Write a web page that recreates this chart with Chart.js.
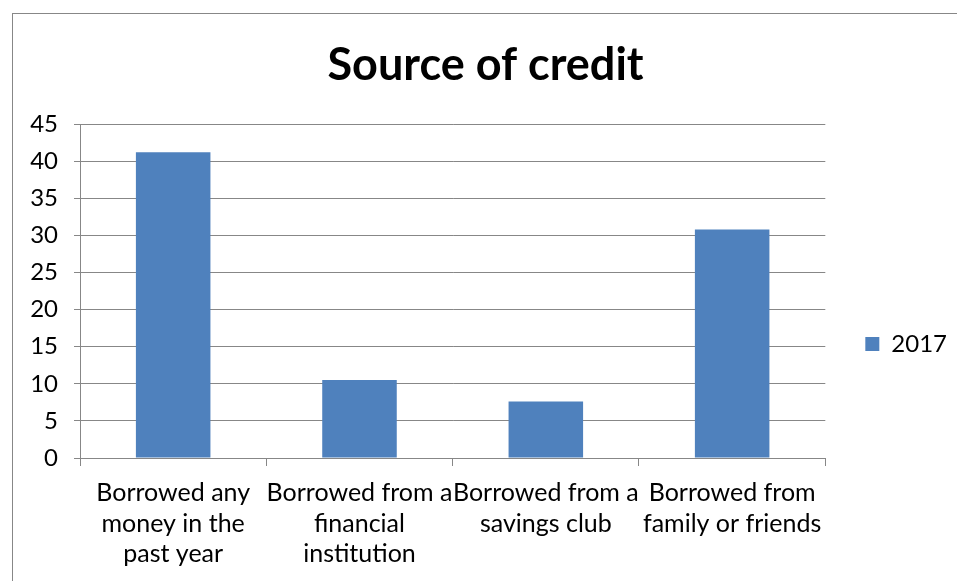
<!DOCTYPE html>
<html>
<head>
<meta charset="utf-8">
<script src="https://cdn.jsdelivr.net/npm/chart.js@4"></script>
<style>
  body { margin: 0; background: #fff; }
  #wrap { position: relative; width: 957px; height: 581px; overflow: hidden; }
  #frame { position: absolute; left: 12px; top: 13px; width: 1000px; height: 700px;
           border-left: 1px solid #878787; border-top: 1px solid #878787; pointer-events: none; }
  canvas { position: absolute; left: 0; top: 0; }
</style>
</head>
<body>
<div id="wrap">
  <canvas id="chart" width="957" height="581"></canvas>
  <div id="frame"></div>
</div>
<script>
const categories = [
  ['Borrowed any', 'money in the', 'past year'],
  ['Borrowed from a', 'financial', 'institution'],
  ['Borrowed from a', 'savings club'],
  ['Borrowed from', 'family or friends']
]
const series2017 = [41.2, 10.5, 7.6, 30.8]
const seriesName = '2017'
const titleText = 'Source of credit'

const fontFamily = 'Lato, "Open Sans", sans-serif'
const gridColor = '#878787'
const barColor = '#4f81bd'

let ctx = document.getElementById('chart').getContext('2d')
let chart = new Chart(ctx, {
  type: 'bar',
  data: {
    labels: categories,
    datasets: [{
      label: seriesName,
      data: series2017,
      backgroundColor: barColor,
      borderWidth: 0,
      categoryPercentage: 0.8,
      barPercentage: 0.5
    }]
  },
  options: {
    responsive: false,
    animation: false,
    layout: {
      padding: { left: 14, right: 0, top: 0, bottom: 0 }
    },
    plugins: {
      title: {
        display: true,
        text: titleText,
        color: '#000',
        font: { family: fontFamily, size: 45, weight: 'bold' },
        padding: { top: 38, bottom: 32 }
      },
      legend: {
        position: 'right',
        title: { display: true, text: ' ', padding: 50, font: { size: 6 } },
        labels: {
          color: '#000',
          boxWidth: 14,
          boxHeight: 14,
          padding: 40,
          font: { family: fontFamily, size: 24 }
        }
      },
      tooltip: { enabled: false }
    },
    scales: {
      x: {
        offset: true,
        grid: { display: true, offset: true, drawOnChartArea: false, color: gridColor, tickLength: 8 },
        border: { color: gridColor },
        ticks: {
          color: '#000',
          maxRotation: 0,
          autoSkip: false,
          padding: 12,
          font: { family: fontFamily, size: 25, lineHeight: 1.22 }
        },
        afterFit: scale => { scale.height = 123 }
      },
      y: {
        min: 0,
        max: 45,
        grid: { color: gridColor, tickLength: 6 },
        border: { color: gridColor },
        ticks: {
          stepSize: 5,
          color: '#000',
          padding: 16,
          font: { family: fontFamily, size: 24 }
        },
        afterFit: scale => { scale.width = 66 }
      }
    }
  }
})
</script>
</body>
</html>
